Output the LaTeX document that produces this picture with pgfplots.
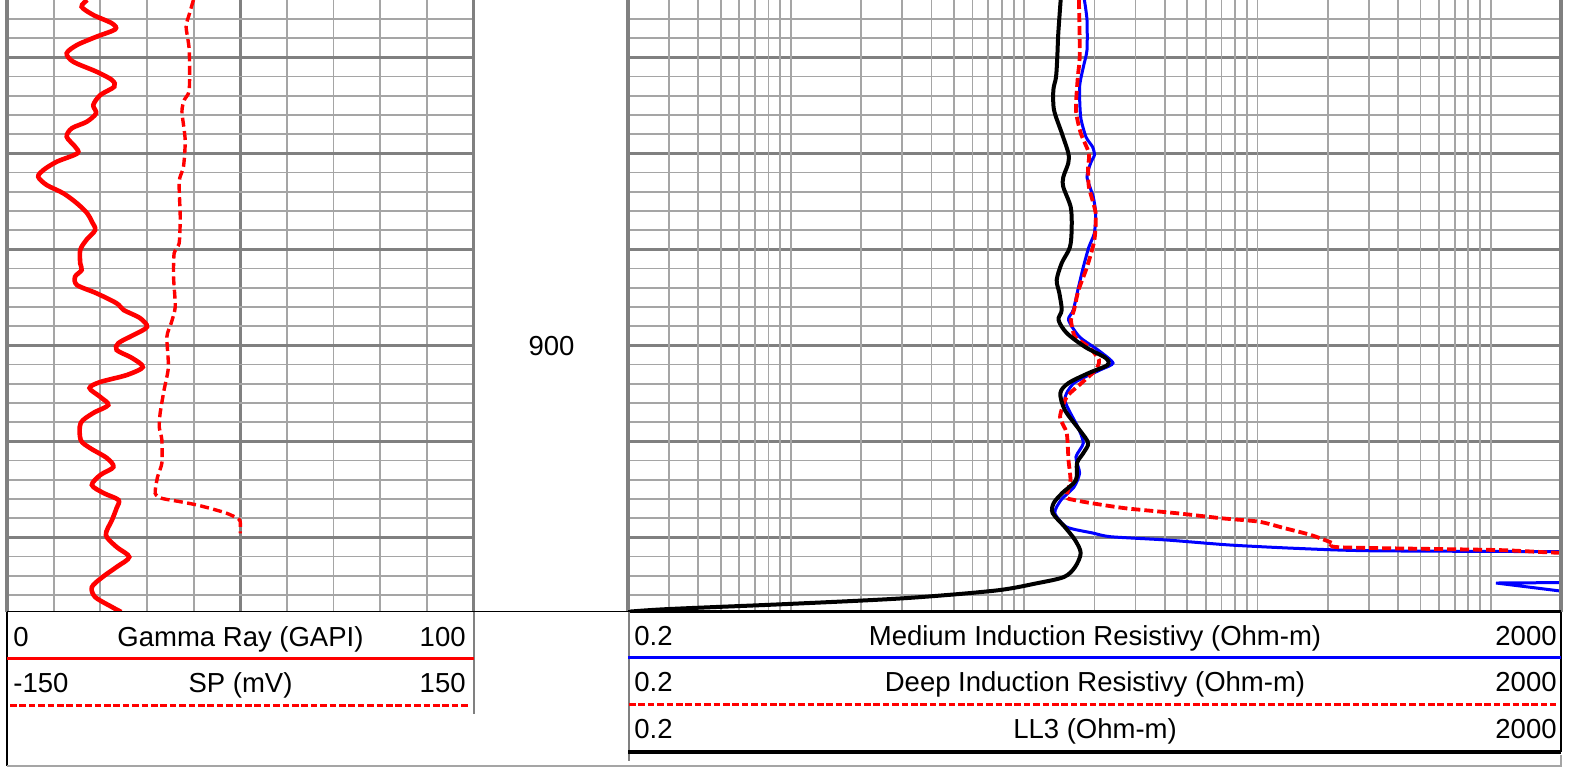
\documentclass[border=0pt]{standalone}
\usepackage{pgfplots}
\pgfplotsset{compat=1.18}
\usepackage{fontspec}
\setmainfont{Liberation Sans}

\definecolor{gridminor}{RGB}{165,165,165}
\definecolor{gridmajor}{RGB}{128,128,128}
\newcommand\hf{\fontsize{13.75}{16}\selectfont}

\pgfplotsset{
  track/.style={
    scale only axis, height=305.85pt,
    y dir=reverse, ymin=864.03, ymax=927.75,
    axis line style={draw=none}, tick style={draw=none},
    major tick length=0pt, minor tick length=0pt,
    xticklabels={}, yticklabels={},
    ytick={870,880,...,920}, minor ytick={864,866,...,926},
    grid=both,
    major grid style={gridmajor, line width=1.4pt},
    minor grid style={gridminor, line width=0.9pt},
  },
}

\begin{document}
\begin{tikzpicture}
\useasboundingbox (0,0) rectangle (787pt,-383.5pt);

% gamma ray track
\begin{axis}[track, at={(3.5pt,-305.85pt)}, anchor=south west, width=233.25pt,
  xmin=0, xmax=100, xtick={50}, minor xtick={0,10,...,100}]
\addplot[red, line width=2.3pt, smooth, tension=0.5] coordinates {
(17.2,864.03) (16.0,864.73) (18.5,865.59) (22.5,866.46) (23.2,867.08) (19.2,867.85)
(15.0,868.72) (12.8,869.58) (14.2,870.46) (19.2,871.5) (22.5,872.36) (23.0,873.06)
(20.0,873.93) (18.5,874.97) (19.1,875.83) (17.1,876.71) (13.9,877.39) (12.8,878.27)
(14.6,879.31) (15.1,880.0) (10.7,880.87) (7.8,881.74) (6.7,882.44) (8.5,883.3)
(12.1,884.17) (15.0,885.21) (17.2,886.25) (18.2,887.12) (18.9,887.99) (17.0,889.03)
(15.7,890.07) (15.7,891.46) (16.0,892.16) (14.6,892.85) (15.0,893.72) (19.2,894.58)
(23.5,895.62) (25.0,896.32) (28.5,897.16) (30.0,898.09) (27.1,898.93) (23.9,899.76)
(23.5,900.49) (26.8,901.32) (29.1,902.26) (25.7,903.09) (20.0,903.82) (17.7,904.45)
(20.0,905.38) (21.7,906.22) (18.5,907.05) (15.8,908.09) (15.8,909.86) (17.8,910.7)
(21.4,911.74) (22.8,912.68) (20.0,913.51) (18.2,914.55) (20.7,915.39) (23.9,916.11)
(23.5,916.95) (22.5,918.2) (21.2,919.76) (23.5,921.01) (26.2,922.05) (23.5,923.09)
(20.5,924.13) (18.2,925.18) (18.9,926.22) (22.5,927.26) (24.5,927.78)
};
\end{axis}

% SP on the same track
\begin{axis}[at={(3.5pt,-305.85pt)}, anchor=south west, scale only axis,
  width=233.25pt, height=305.85pt, hide axis,
  xmin=-150, xmax=150, y dir=reverse, ymin=864.03, ymax=927.75]
\addplot[red, line width=1.7pt, dash pattern=on 4.5pt off 2.2pt, smooth, tension=0.4] coordinates {
(-30.1,864.03) (-32.6,865.42) (-34.8,866.81) (-32.8,869.24) (-32.8,873.4) (-36.0,874.45)
(-37.5,875.66) (-35.4,878.61) (-36.5,881.39) (-39.3,882.95) (-38.6,886.6) (-39.3,889.37)
(-42.5,890.41) (-42.9,892.85) (-41.8,895.98) (-44.4,897.68) (-47.2,899.13) (-46.2,902.26)
(-49.0,904.66) (-51.5,907.05) (-52.1,908.51) (-50.4,909.86) (-50.4,912.26) (-53.2,913.72)
(-54.7,915.42) (-50.4,915.94) (-38.6,916.29) (-27.9,916.63) (-17.2,917.08) (-8.6,917.5)
(-1.7,918.02) (0.0,918.37) (0.0,919.58)
};
\end{axis}

% resistivity track
\begin{axis}[track, at={(314pt,-305.85pt)}, anchor=south west, width=466.5pt,
  xmode=log, xmin=0.2, xmax=2000, xtick=\empty,
  extra x ticks={0.3,0.4,0.5,0.6,0.7,0.8,0.9,1,2,3,4,5,6,7,8,9,10,20,30,40,50,60,70,80,90,
    100,200,300,400,500,600,700,800,900,1000},
  extra x tick labels={},
  extra x tick style={grid=major, major grid style={gridminor, line width=0.9pt},
    tick style={draw=none}}]
% medium induction
\addplot[blue, line width=1.5pt, smooth, tension=0.4] coordinates {
(18.10,864.03) (18.57,866.11) (18.57,869.24) (17.91,871.01) (17.26,873.09) (17.45,876.22)
(18.39,878.3) (19.63,879.34) (19.98,880.18) (19.26,881.01) (18.57,882.47) (19.76,884.55)
(20.22,886.22) (19.98,888.3) (18.92,889.76) (17.91,891.84) (17.08,893.93) (16.22,896.32)
(15.47,897.36) (17.26,899.13) (20.70,900.49) (24.0,901.84) (21.12,902.57) (16.34,903.93)
(14.92,905.7) (16.96,908.51) (17.91,910.18) (16.65,911.63) (17.26,913.3) (16.34,914.76)
(14.37,916.11) (13.52,917.47) (15.20,918.93) (19.63,919.55) (23.5,919.94) (40.8,920.28)
(75.9,920.8) (146.2,921.15) (303.7,921.4) (2000,921.5) (5000,921.6)
};
\addplot[blue, line width=1.5pt] coordinates {
(5000,921.6) (5000,924.65) (1053,924.76) (2000,925.6) (5000,925.8)
};
% deep induction
\addplot[red, line width=1.9pt, dash pattern=on 4.5pt off 2pt, smooth, tension=0.4] coordinates {
(17.15,864.03) (17.26,867.47) (17.26,870.28) (16.96,872.05) (16.65,875.49) (17.45,877.88)
(18.92,879.97) (18.78,881.43) (18.92,883.51) (20.22,886.22) (19.98,889.03) (18.57,891.84)
(17.08,894.24) (16.34,896.32) (15.86,897.36) (16.50,899.13) (18.94,900.18) (20.91,901.53)
(20.22,902.57) (17.59,903.93) (15.20,905.38) (14.23,907.47) (15.20,909.13) (15.47,911.95)
(15.77,914.03) (15.20,915.8) (16.34,916.11) (19.63,916.46) (27.3,916.98) (45.5,917.5)
(70.4,918.02) (101.5,918.37) (131.1,919.06) (169.5,919.76) (210.6,920.62) (227.3,921.04)
(1053,921.32) (1904,921.6) (5000,921.84)
};
% LL3
\addplot[black, line width=2pt, smooth, tension=0.5] coordinates {
(14.32,864.03) (13.99,867.47) (13.85,869.97) (13.68,872.05) (13.32,873.41) (13.41,875.49)
(14.47,877.88) (15.44,879.97) (15.44,881.01) (14.70,882.47) (14.70,883.51) (15.81,885.59)
(15.97,887.68) (15.70,889.76) (14.47,891.43) (13.77,893.2) (14.13,894.55) (14.47,896.32)
(14.02,897.36) (15.20,898.72) (18.25,900.18) (22.32,901.32) (22.72,902.05) (18.92,902.88)
(15.47,903.93) (14.28,904.97) (14.92,906.74) (17.26,908.82) (18.78,910.18) (17.91,911.22)
(16.83,912.26) (16.65,914.03) (14.54,915.39) (13.37,916.43) (13.23,917.47) (14.92,918.93)
(16.50,920.28) (17.45,921.64) (16.50,923.1) (14.80,924.13) (11.3,924.79) (7.5,925.55)
(3.03,926.35) (0.958,926.95) (0.283,927.5) (0.17,927.9)
};
\end{axis}

% track borders
\draw[gridmajor, line width=1.7pt] (3.5pt,0) -- (3.5pt,-305.85pt);
\draw[gridmajor, line width=1.7pt] (236.75pt,0) -- (236.75pt,-305.85pt);
\draw[gridmajor, line width=1.7pt] (314pt,0) -- (314pt,-305.85pt);
\draw[gridmajor, line width=1.7pt] (780.5pt,0) -- (780.5pt,-305.85pt);

% header frame
\draw[black, line width=0.7pt] (3.5pt,-305.85pt) -- (780.5pt,-305.85pt);
\draw[black, line width=1.3pt] (314pt,-305.85pt) -- (780.5pt,-305.85pt);
\draw[black, line width=1pt] (3.5pt,-305.85pt) -- (3.5pt,-383pt);
\draw[gridminor, line width=0.9pt] (3.5pt,-383pt) -- (781pt,-383pt);
\draw[gridmajor, line width=0.8pt] (237pt,-305.85pt) -- (237pt,-357pt);
\draw[gridmajor, line width=0.9pt] (314.5pt,-305.85pt) -- (314.5pt,-380.5pt);
\draw[black, line width=1pt] (780.5pt,-305.85pt) -- (780.5pt,-376pt);
\draw[gridminor, line width=0.8pt] (780.5pt,-377.5pt) -- (780.5pt,-383.5pt);

% legend lines
\draw[red, line width=1.5pt] (3.5pt,-329pt) -- (237pt,-329pt);
\draw[red, line width=1.5pt, dash pattern=on 3.3pt off 1.4pt] (5pt,-352.5pt) -- (235pt,-352.5pt);
\draw[blue, line width=1.5pt] (314pt,-328.5pt) -- (780.5pt,-328.5pt);
\draw[red, line width=1.5pt, dash pattern=on 3.3pt off 1.4pt] (314.5pt,-352.25pt) -- (778pt,-352.25pt);
\draw[black, line width=2pt] (314pt,-376pt) -- (780.5pt,-376pt);

% header text
\begin{scope}[every node/.style={inner sep=0pt, font=\hf}]
\node[anchor=base west] at (6.5pt,-323pt) {0};
\node[anchor=base] at (120.25pt,-323pt) {Gamma Ray (GAPI)};
\node[anchor=base east] at (233pt,-323pt) {100};
\node[anchor=base west] at (6.5pt,-346pt) {-150};
\node[anchor=base] at (120.25pt,-346pt) {SP (mV)};
\node[anchor=base east] at (233pt,-346pt) {150};

\node[anchor=base west] at (317pt,-322.5pt) {0.2};
\node[anchor=base] at (547.5pt,-322.5pt) {Medium Induction Resistivy (Ohm-m)};
\node[anchor=base east] at (778.5pt,-322.5pt) {2000};
\node[anchor=base west] at (317pt,-345.85pt) {0.2};
\node[anchor=base] at (547.5pt,-345.85pt) {Deep Induction Resistivy (Ohm-m)};
\node[anchor=base east] at (778.5pt,-345.85pt) {2000};
\node[anchor=base west] at (317pt,-369pt) {0.2};
\node[anchor=base] at (547.5pt,-369pt) {LL3 (Ohm-m)};
\node[anchor=base east] at (778.5pt,-369pt) {2000};

\node[anchor=base] at (275.75pt,-177.5pt) {900};
\end{scope}
\end{tikzpicture}
\end{document}
